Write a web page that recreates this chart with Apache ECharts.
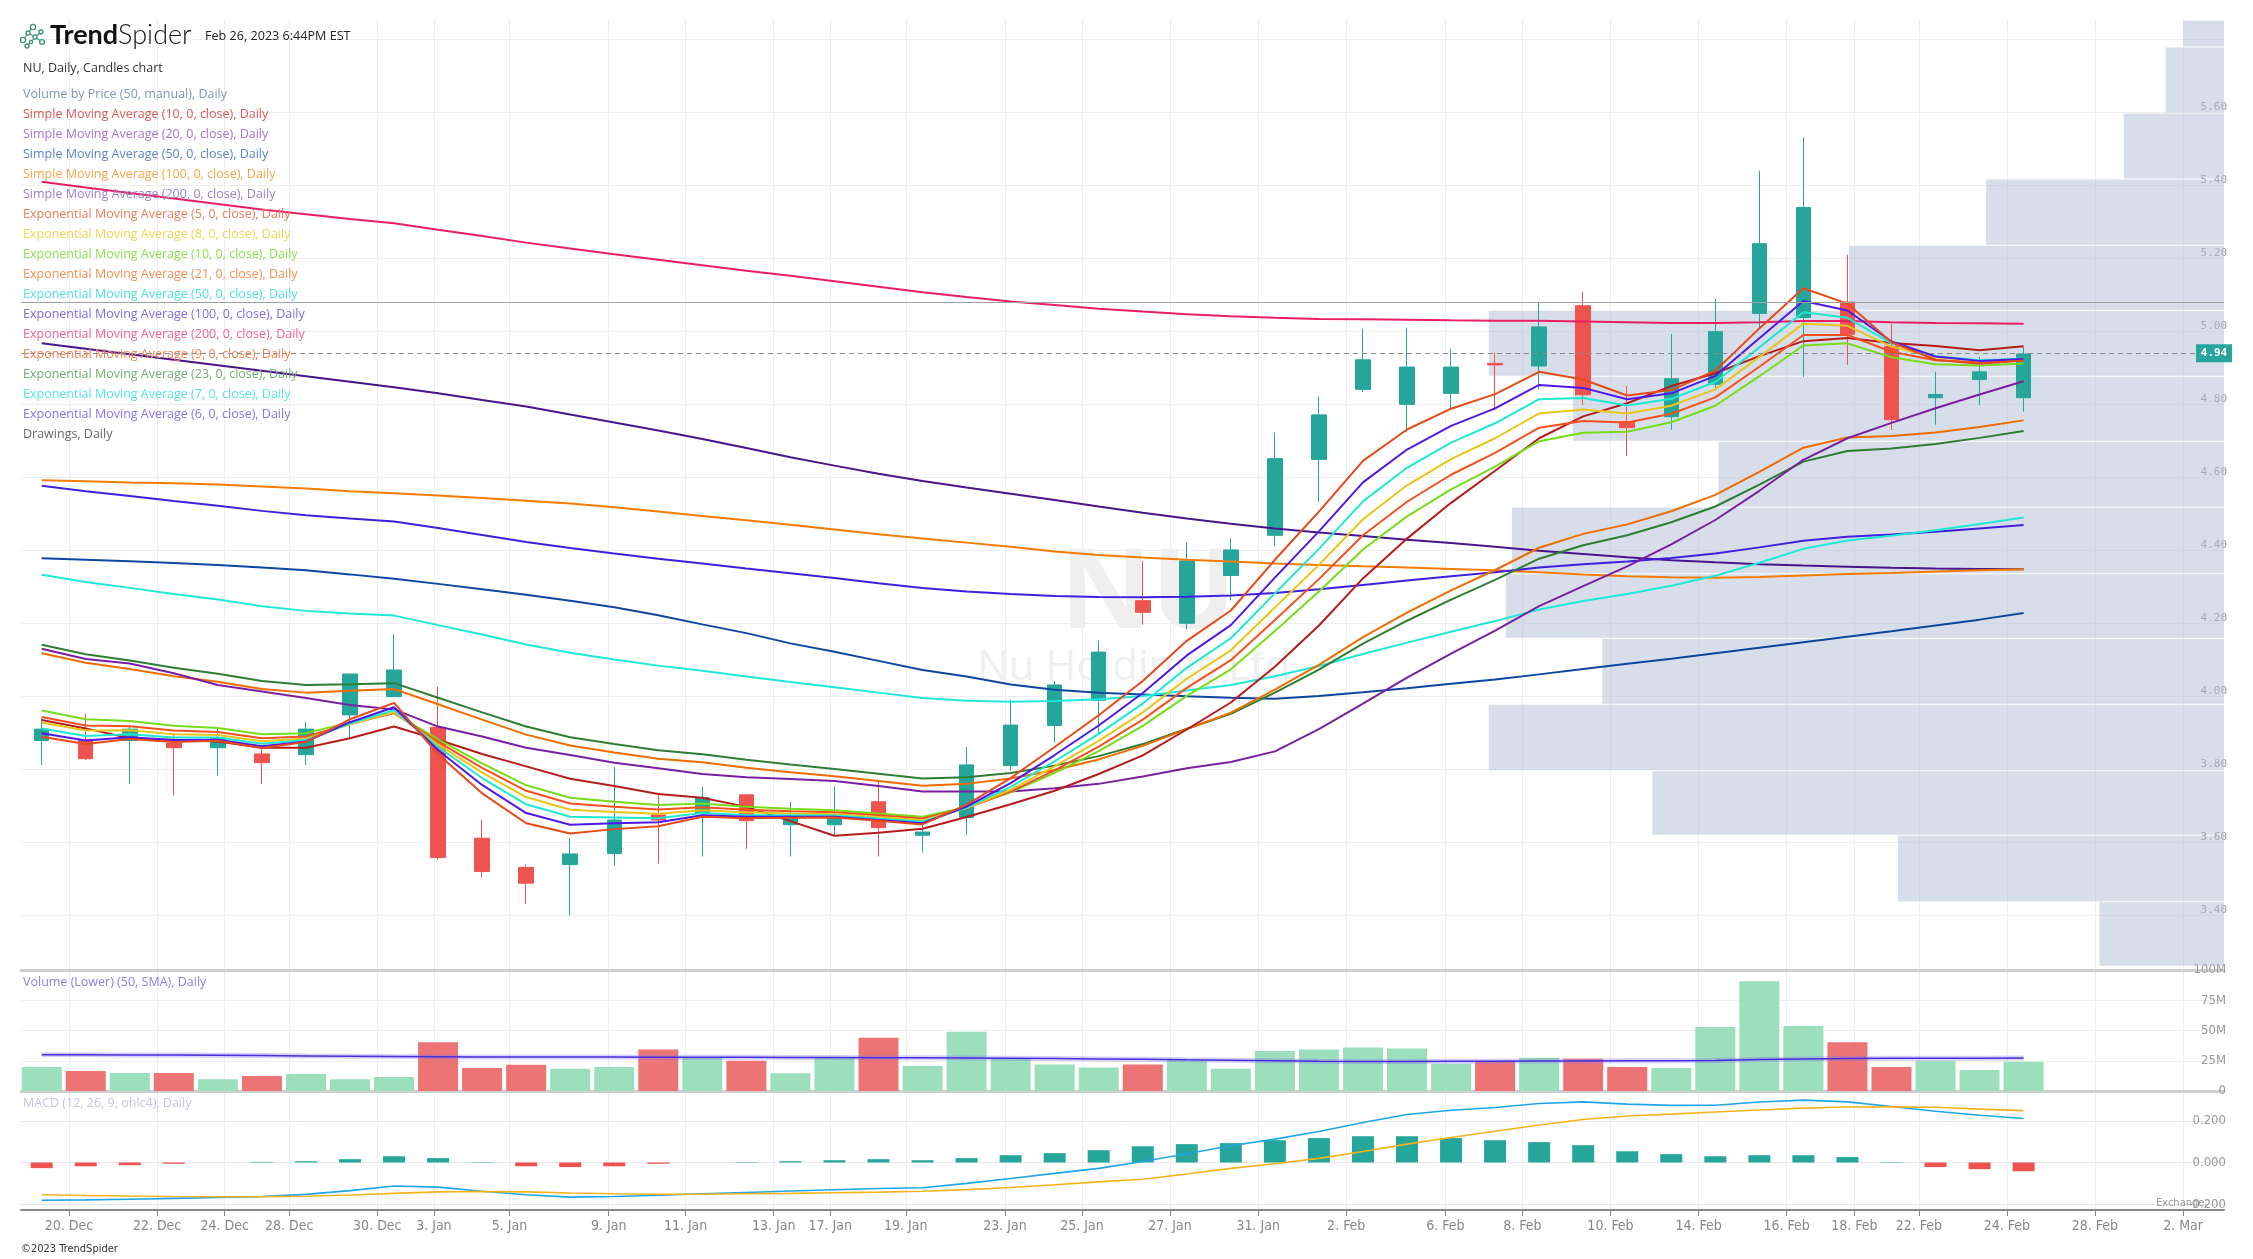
<!DOCTYPE html>
<html><head><meta charset="utf-8">
<script src="https://cdn.jsdelivr.net/npm/echarts@6/dist/echarts.min.js"></script>
<style>html,body{margin:0;padding:0;background:#fff;}#c{width:2253px;height:1259px;}</style>
</head><body><div id="c"></div>
<script>
// ---------------- DATA ----------------
const dates = ['2022-12-19','2022-12-20','2022-12-21','2022-12-22','2022-12-23','2022-12-27','2022-12-28','2022-12-29','2022-12-30',
'2023-01-03','2023-01-04','2023-01-05','2023-01-06','2023-01-09','2023-01-10','2023-01-11','2023-01-12','2023-01-13','2023-01-17','2023-01-18','2023-01-19','2023-01-20',
'2023-01-23','2023-01-24','2023-01-25','2023-01-26','2023-01-27','2023-01-30','2023-01-31','2023-02-01','2023-02-02','2023-02-03',
'2023-02-06','2023-02-07','2023-02-08','2023-02-09','2023-02-10','2023-02-13','2023-02-14','2023-02-15','2023-02-16','2023-02-17',
'2023-02-21','2023-02-22','2023-02-23','2023-02-24'];
const futureSessions = ['2023-02-27','2023-02-28','2023-03-01','2023-03-02','2023-03-03','2023-03-06'];
const open  = [3.879,3.880,3.879,3.872,3.859,3.842,3.840,3.949,3.999,3.915,3.611,3.531,3.539,3.569,3.675,3.679,3.730,3.648,3.648,3.711,3.619,3.668,3.810,3.920,3.989,4.262,4.200,4.331,4.441,4.649,4.841,4.800,4.830,4.912,4.905,5.070,4.752,4.766,4.855,5.049,5.038,5.080,4.959,4.818,4.868,4.818];
const high  = [3.940,3.952,3.919,3.894,3.912,3.855,3.930,4.061,4.171,4.026,3.661,3.539,3.611,3.806,3.731,3.752,3.730,3.711,3.752,3.768,3.648,3.861,3.990,4.042,4.152,4.371,4.421,4.432,4.722,4.822,5.007,5.010,4.952,4.941,5.080,5.108,4.850,4.993,5.089,5.440,5.532,5.210,5.020,4.889,4.930,4.956];
const low   = [3.812,3.825,3.760,3.728,3.783,3.760,3.812,3.882,3.999,3.552,3.504,3.432,3.400,3.536,3.542,3.561,3.582,3.561,3.620,3.561,3.572,3.620,3.796,3.873,3.898,4.196,4.183,4.263,4.413,4.533,4.834,4.724,4.788,4.783,4.841,4.798,4.659,4.730,4.837,5.010,4.875,4.908,4.730,4.744,4.798,4.780];
const close = [3.910,3.829,3.910,3.859,3.885,3.818,3.910,4.061,4.072,3.558,3.520,3.488,3.568,3.661,3.661,3.722,3.659,3.670,3.670,3.640,3.628,3.812,3.921,4.031,4.121,4.230,4.371,4.401,4.651,4.771,4.922,4.902,4.902,4.908,5.012,4.826,4.736,4.870,4.999,5.240,5.339,4.992,4.758,4.827,4.889,4.938];
const volumeM = [19.9,16.6,14.9,14.9,9.8,12.4,14.0,9.8,11.5,40.2,19.1,21.6,18.3,19.9,34.3,27.5,25.0,14.6,28.0,44.0,20.7,49.0,27.0,22.0,19.5,22.0,25.6,18.3,33.0,34.3,36.0,35.1,22.5,25.0,27.5,26.7,19.9,19.1,52.8,90.7,53.7,40.2,19.9,25.0,17.4,24.2];
const volumeSmaM = [30.0,29.9,29.8,29.7,29.5,29.3,29.0,28.8,28.5,28.3,28.2,28.1,28.0,28.0,27.9,27.9,27.8,27.7,27.6,27.5,27.4,27.2,27.0,26.8,26.5,26.2,25.8,25.5,25.0,24.6,24.4,24.4,24.5,24.6,24.7,24.8,25.0,25.0,25.2,26.0,26.4,26.8,27.0,27.0,27.1,27.2];
const macdLine = [-0.181,-0.179,-0.176,-0.172,-0.168,-0.163,-0.153,-0.135,-0.113,-0.118,-0.138,-0.155,-0.166,-0.163,-0.157,-0.150,-0.144,-0.137,-0.131,-0.125,-0.121,-0.100,-0.077,-0.052,-0.028,0.005,0.042,0.080,0.112,0.149,0.192,0.230,0.251,0.264,0.283,0.291,0.280,0.274,0.275,0.290,0.299,0.291,0.269,0.246,0.227,0.211];
const signalLine = [-0.155,-0.158,-0.161,-0.163,-0.164,-0.164,-0.162,-0.156,-0.148,-0.141,-0.139,-0.141,-0.146,-0.150,-0.152,-0.152,-0.150,-0.148,-0.145,-0.142,-0.138,-0.130,-0.120,-0.107,-0.093,-0.080,-0.055,-0.028,-0.006,0.020,0.053,0.088,0.120,0.150,0.180,0.206,0.223,0.232,0.242,0.252,0.261,0.266,0.267,0.265,0.256,0.249];
const macdHist = [-0.027,-0.018,-0.013,-0.006,0,0.003,0.006,0.016,0.030,0.021,0.002,-0.018,-0.022,-0.018,-0.006,0,0.002,0.006,0.011,0.016,0.011,0.021,0.035,0.045,0.059,0.078,0.088,0.093,0.107,0.117,0.126,0.126,0.117,0.107,0.098,0.083,0.054,0.040,0.030,0.035,0.035,0.026,0.002,-0.022,-0.032,-0.042];

const sma10 = [3.935,3.912,3.885,3.880,3.876,3.859,3.859,3.885,3.917,3.881,3.842,3.808,3.774,3.754,3.732,3.722,3.697,3.658,3.618,3.626,3.637,3.669,3.704,3.741,3.787,3.838,3.909,3.983,4.081,4.194,4.323,4.432,4.530,4.618,4.707,4.767,4.803,4.850,4.885,4.932,4.973,4.982,4.968,4.960,4.948,4.959];
const sma20 = [4.130,4.102,4.090,4.063,4.031,4.013,3.995,3.976,3.964,3.917,3.890,3.859,3.839,3.818,3.803,3.787,3.778,3.773,3.768,3.754,3.739,3.739,3.739,3.748,3.760,3.780,3.803,3.820,3.849,3.910,3.980,4.051,4.117,4.180,4.247,4.302,4.356,4.416,4.483,4.563,4.648,4.707,4.749,4.789,4.827,4.863];
const sma50 = [4.378,4.374,4.370,4.365,4.360,4.353,4.345,4.334,4.322,4.308,4.293,4.278,4.262,4.244,4.222,4.197,4.173,4.145,4.122,4.097,4.072,4.054,4.032,4.018,4.010,4.005,4.000,3.996,3.993,4.001,4.011,4.022,4.034,4.046,4.060,4.075,4.089,4.103,4.118,4.133,4.148,4.163,4.178,4.194,4.210,4.228];
const sma100 = [4.592,4.589,4.586,4.584,4.580,4.575,4.569,4.562,4.556,4.550,4.543,4.536,4.528,4.518,4.506,4.494,4.482,4.470,4.457,4.444,4.432,4.421,4.410,4.397,4.387,4.380,4.374,4.369,4.364,4.360,4.356,4.353,4.349,4.345,4.340,4.334,4.329,4.326,4.325,4.327,4.331,4.335,4.338,4.342,4.345,4.348];
const sma200 = [4.967,4.952,4.937,4.922,4.907,4.892,4.877,4.862,4.847,4.830,4.812,4.794,4.772,4.750,4.728,4.705,4.680,4.655,4.632,4.610,4.590,4.572,4.555,4.538,4.520,4.503,4.487,4.473,4.460,4.449,4.439,4.429,4.420,4.410,4.399,4.390,4.381,4.373,4.367,4.362,4.358,4.355,4.352,4.350,4.349,4.348];
const ema5 = [3.889,3.869,3.883,3.875,3.878,3.858,3.875,3.937,3.982,3.841,3.734,3.652,3.624,3.636,3.644,3.670,3.666,3.667,3.668,3.659,3.649,3.703,3.776,3.861,3.948,4.042,4.152,4.235,4.374,4.506,4.645,4.731,4.788,4.828,4.889,4.868,4.824,4.839,4.892,5.008,5.118,5.076,4.970,4.922,4.911,4.920];
const ema6 = [3.899,3.879,3.888,3.880,3.881,3.863,3.876,3.929,3.970,3.852,3.757,3.680,3.648,3.652,3.655,3.674,3.670,3.670,3.670,3.661,3.652,3.698,3.762,3.839,3.920,4.009,4.112,4.195,4.325,4.452,4.586,4.676,4.741,4.789,4.853,4.845,4.814,4.830,4.878,4.981,5.083,5.057,4.972,4.931,4.919,4.924];
const ema7 = [3.912,3.891,3.896,3.887,3.887,3.870,3.880,3.925,3.962,3.861,3.776,3.704,3.670,3.668,3.666,3.680,3.675,3.674,3.673,3.665,3.656,3.695,3.752,3.822,3.897,3.980,4.078,4.159,4.282,4.404,4.534,4.626,4.695,4.748,4.814,4.817,4.797,4.815,4.861,4.956,5.052,5.037,4.967,4.932,4.921,4.925];
const ema8 = [3.928,3.906,3.907,3.896,3.894,3.877,3.884,3.923,3.956,3.868,3.791,3.724,3.689,3.683,3.678,3.688,3.682,3.679,3.677,3.669,3.660,3.694,3.744,3.808,3.878,3.956,4.048,4.126,4.243,4.360,4.485,4.578,4.650,4.707,4.775,4.786,4.775,4.796,4.841,4.930,5.021,5.015,4.958,4.929,4.920,4.924];
const ema9 = [3.943,3.920,3.918,3.906,3.902,3.885,3.890,3.924,3.954,3.875,3.804,3.741,3.706,3.697,3.690,3.696,3.689,3.685,3.682,3.674,3.665,3.694,3.739,3.797,3.862,3.936,4.023,4.099,4.209,4.321,4.441,4.533,4.607,4.667,4.736,4.754,4.750,4.774,4.819,4.903,4.990,4.990,4.944,4.921,4.915,4.920];
const ema10 = [3.961,3.937,3.932,3.919,3.913,3.896,3.899,3.928,3.954,3.882,3.816,3.756,3.722,3.711,3.702,3.706,3.697,3.692,3.688,3.679,3.670,3.696,3.737,3.790,3.850,3.919,4.001,4.074,4.179,4.287,4.402,4.493,4.567,4.629,4.699,4.722,4.725,4.751,4.796,4.877,4.961,4.967,4.929,4.910,4.906,4.912];
const ema21 = [4.118,4.092,4.075,4.055,4.040,4.020,4.010,4.015,4.020,3.978,3.936,3.895,3.865,3.846,3.829,3.819,3.804,3.792,3.781,3.768,3.755,3.760,3.775,3.798,3.827,3.864,3.910,3.955,4.018,4.086,4.162,4.229,4.290,4.346,4.407,4.445,4.471,4.507,4.552,4.615,4.681,4.709,4.713,4.723,4.738,4.756];
const ema23 = [4.141,4.115,4.098,4.078,4.062,4.042,4.031,4.033,4.036,3.996,3.956,3.917,3.888,3.869,3.852,3.841,3.826,3.813,3.801,3.788,3.775,3.778,3.790,3.810,3.836,3.869,3.911,3.952,4.010,4.073,4.144,4.207,4.265,4.319,4.377,4.414,4.441,4.477,4.520,4.580,4.643,4.672,4.679,4.691,4.708,4.727];
const ema50 = [4.333,4.313,4.297,4.280,4.265,4.247,4.234,4.227,4.221,4.195,4.169,4.142,4.119,4.101,4.084,4.070,4.054,4.039,4.025,4.010,3.995,3.988,3.985,3.987,3.992,4.001,4.016,4.031,4.055,4.083,4.116,4.147,4.177,4.206,4.238,4.261,4.280,4.303,4.330,4.366,4.404,4.427,4.440,4.455,4.472,4.490];
const ema100 = [4.577,4.562,4.549,4.535,4.522,4.508,4.496,4.487,4.479,4.461,4.442,4.423,4.406,4.391,4.377,4.364,4.350,4.337,4.324,4.310,4.297,4.287,4.280,4.275,4.272,4.271,4.273,4.276,4.283,4.293,4.305,4.317,4.329,4.340,4.353,4.362,4.369,4.379,4.391,4.408,4.426,4.437,4.443,4.451,4.460,4.469];
const ema200 = [5.410,5.394,5.379,5.364,5.349,5.334,5.321,5.308,5.296,5.278,5.261,5.243,5.227,5.211,5.196,5.181,5.166,5.152,5.137,5.122,5.107,5.094,5.082,5.072,5.062,5.054,5.047,5.041,5.037,5.034,5.033,5.032,5.030,5.029,5.029,5.027,5.025,5.023,5.023,5.025,5.028,5.028,5.025,5.023,5.022,5.021];

const vbpEdges = [3.260,3.437,3.619,3.796,3.978,4.159,4.336,4.518,4.699,4.877,5.058,5.236,5.417,5.598,5.779,5.960];
const vbpVolumeM = [22.6,59.2,103.8,133.5,112.9,130.4,129.3,91.8,118.2,133.5,68.1,43.2,18.2,10.6,7.4];

const tickDates = ['2022-12-20','2022-12-22','2022-12-24','2022-12-28','2022-12-30','2023-01-03','2023-01-05','2023-01-09','2023-01-11','2023-01-13','2023-01-17','2023-01-19','2023-01-23','2023-01-25','2023-01-27','2023-01-31','2023-02-02','2023-02-06','2023-02-08','2023-02-10','2023-02-14','2023-02-16','2023-02-18','2023-02-22','2023-02-24','2023-02-28','2023-03-02'];
const monthNames = ['Jan','Feb','Mar','Apr','May','Jun','Jul','Aug','Sep','Oct','Nov','Dec'];
const priceGridTicks = [3.4,3.6,3.8,4.0,4.2,4.4,4.6,4.8,5.0,5.2,5.4,5.6,5.8];
const priceTickLabels = [3.4,3.6,3.8,4.0,4.2,4.4,4.6,4.8,5.0,5.2,5.4,5.6];
const macdTicks = [-0.2,0,0.2];
const lastPrice = 4.94;
const drawingLevel = 5.08;

const headerDate = 'Feb 26, 2023 6:44PM EST';
const chartTitle = 'NU, Daily, Candles chart';
const legendTexts = ['Volume by Price (50, manual), Daily','Simple Moving Average (10, 0, close), Daily','Simple Moving Average (20, 0, close), Daily',
'Simple Moving Average (50, 0, close), Daily','Simple Moving Average (100, 0, close), Daily','Simple Moving Average (200, 0, close), Daily',
'Exponential Moving Average (5, 0, close), Daily','Exponential Moving Average (8, 0, close), Daily','Exponential Moving Average (10, 0, close), Daily',
'Exponential Moving Average (21, 0, close), Daily','Exponential Moving Average (50, 0, close), Daily','Exponential Moving Average (100, 0, close), Daily',
'Exponential Moving Average (200, 0, close), Daily','Exponential Moving Average (9, 0, close), Daily','Exponential Moving Average (23, 0, close), Daily',
'Exponential Moving Average (7, 0, close), Daily','Exponential Moving Average (6, 0, close), Daily','Drawings, Daily'];
const volumeTitle = 'Volume (Lower) (50, SMA), Daily';
const macdTitle = 'MACD (12, 26, 9, ohlc4), Daily';
const watermark1 = 'NU', watermark2 = 'Nu Holdings Ltd';
const copyright = '©2023 TrendSpider';

// ---------------- STYLE / LAYOUT ----------------
const legendColors = ['#8095b8','#d65a58','#a574d2','#5d82c8','#f6a446','#9c80c9','#f27b5c','#e8d94e','#8fe04f','#f59052','#4ee3d8','#7c6ce6','#f0639b','#f28052','#76aa76','#55e6de','#8c70ef','#666666'];
const W = 2253, H = 1259;
const GL = 21, GR = 29;
const P_TOP = 20, P_H = 950, V_TOP = 970, V_H = 121, M_TOP = 1091, M_H = 119;
const PRICE_MIN = 3.25, PRICE_MAX = 5.853;
const XMIN = -0.47, XMAX = 49.55;
const SESSION_OFFSET = 0.38;
const UP = '#26a69a', DOWN = '#ef5350';
const narrow = '"Liberation Sans Narrow","DejaVu Sans Condensed","Roboto Condensed",sans-serif';

function dayNum(s){const a=s.split('-').map(Number);return Date.UTC(a[0],a[1]-1,a[2])/86400000;}
const sess = dates.concat(futureSessions).map(s=>dayNum(s)+SESSION_OFFSET);
function tickPos(s){const D=dayNum(s);for(let k=0;k<sess.length-1;k++){if(sess[k]<=D&&D<sess[k+1])return k+(D-sess[k])/(sess[k+1]-sess[k]);}return null;}
const ticks = tickDates.map(s=>{const a=s.split('-').map(Number);return {pos:tickPos(s),label:a[2]+'. '+monthNames[a[1]-1]};});
const tickValues = ticks.map(t=>t.pos);
function tickLabel(v){const t=ticks.find(t=>Math.abs(t.pos-v)<1e-6);return t?t.label:'';}

const chart = echarts.init(document.getElementById('c'), null, {renderer:'canvas'});

function xAxisFor(grid, opts){
  return Object.assign({type:'value', gridIndex:grid, min:XMIN, max:XMAX,
    axisLine:{show:true,onZero:false,lineStyle:{color:'#cfcfcf',width:3}},
    axisTick:{show:false,customValues:tickValues},
    axisLabel:{show:false,customValues:tickValues},
    splitLine:{show:true,lineStyle:{color:'#eeeeee',width:1}}}, opts||{});
}
const lineSpecs = [
  [ema200,'#e91e63'],[sma200,'#4a148c'],[sma100,'#f57c00'],[ema100,'#3f1fe0'],[sma50,'#0d47a1'],[ema50,'#1de9d6'],
  [ema23,'#2e7d32'],[ema21,'#ef6c00'],[sma20,'#7b1fa2'],[sma10,'#b71c1c'],
  [ema10,'#76dd1a'],[ema9,'#f4511e'],[ema8,'#e8c51a'],[ema7,'#1de9d0'],[ema6,'#5018e8'],[ema5,'#e64a19']
];
const idxData = arr => arr.map((v,i)=>[i,v]);
const series = [];
series.push({type:'custom', xAxisIndex:1, yAxisIndex:0, z:1, silent:true,
  data: vbpVolumeM.map((v,i)=>[vbpEdges[i],vbpEdges[i+1],v]),
  encode:{x:2,y:[0,1]},
  renderItem:(params,api)=>{
    const lo=api.value(0), hi=Math.min(api.value(1),PRICE_MAX);
    const a=api.coord([0,hi]), b=api.coord([api.value(2),lo]);
    return {type:'rect', shape:{x:b[0], y:a[1]+0.5, width:a[0]-b[0], height:b[1]-a[1]-1}, style:{fill:'rgba(178,190,212,0.5)'}};
  }});
series.push({type:'candlestick', xAxisIndex:0, yAxisIndex:0, z:3, barWidth:15,
  data: dates.map((d,i)=>[i,open[i],close[i],low[i],high[i]]), encode:{x:0,y:[1,2,3,4]},
  itemStyle:{color:UP,color0:DOWN,borderColor:UP,borderColor0:DOWN,borderWidth:1},
  markLine:{silent:true,symbol:'none',label:{show:false},animation:false,
    data:[{yAxis:drawingLevel,lineStyle:{color:'#a0a0a0',width:1.2,type:'solid'}},
          {yAxis:lastPrice,lineStyle:{color:'#8a8a8a',width:1,type:[5,4]}}]}});
lineSpecs.forEach(([arr,col])=>series.push({type:'line',xAxisIndex:0,yAxisIndex:0,z:4,silent:true,symbol:'none',
  data:idxData(arr),lineStyle:{width:2,color:col}}));
series.push({type:'bar', xAxisIndex:2, yAxisIndex:1, barWidth:40, silent:true,
  data: volumeM.map((v,i)=>({value:[i,v*1e6], itemStyle:{color: close[i]>=open[i]?'#9bdfbc':'#ec7474'}}))});
series.push({type:'line', xAxisIndex:2, yAxisIndex:1, symbol:'none', silent:true, z:4,
  data: volumeSmaM.map((v,i)=>[i,v*1e6]), lineStyle:{color:'rgba(140,120,240,0.35)',width:5}});
series.push({type:'line', xAxisIndex:2, yAxisIndex:1, symbol:'none', silent:true, z:5,
  data: volumeSmaM.map((v,i)=>[i,v*1e6]), lineStyle:{color:'#4630da',width:1.5}});
series.push({type:'bar', xAxisIndex:3, yAxisIndex:2, barWidth:22, silent:true,
  data: macdHist.map((v,i)=>({value:[i,v], itemStyle:{color: v>=0?UP:DOWN}}))});
series.push({type:'line', xAxisIndex:3, yAxisIndex:2, symbol:'none', silent:true, z:5, data:idxData(macdLine), lineStyle:{color:'#1ea5ea',width:1.6}});
series.push({type:'line', xAxisIndex:3, yAxisIndex:2, symbol:'none', silent:true, z:5, data:idxData(signalLine), lineStyle:{color:'#f6b21c',width:1.6}});

const option = {
  animation:false, backgroundColor:'#ffffff',
  grid:[
    {left:GL,right:GR,top:P_TOP,height:P_H,outerBoundsMode:'none'},
    {left:GL,right:GR,top:V_TOP,height:V_H,outerBoundsMode:'none'},
    {left:GL,right:GR,top:M_TOP,height:M_H,outerBoundsMode:'none'}
  ],
  xAxis:[
    xAxisFor(0),
    {type:'value', gridIndex:0, min:0, max:400, inverse:true, show:false},
    xAxisFor(1),
    xAxisFor(2,{axisLine:{show:true,onZero:false,lineStyle:{color:'#888888',width:2}},
      axisTick:{show:true,length:6,customValues:tickValues,lineStyle:{color:'#888888'}},
      axisLabel:{show:true,customValues:tickValues,formatter:tickLabel,color:'#888888',fontSize:14,fontFamily:narrow,margin:9}})
  ],
  yAxis:[
    {type:'value', gridIndex:0, position:'right', min:PRICE_MIN, max:PRICE_MAX,
     axisLine:{show:false}, axisTick:{show:false,customValues:priceGridTicks},
     axisLabel:{inside:true,margin:-3,customValues:priceTickLabels,formatter:v=>v.toFixed(2),color:'#999999',fontSize:11,fontFamily:'"DejaVu Sans Mono",monospace',verticalAlign:'bottom'},
     splitLine:{show:true,lineStyle:{color:'#eeeeee'}}},
    {type:'value', gridIndex:1, position:'right', min:0, max:100e6, interval:25e6,
     axisLine:{show:false}, axisTick:{show:false},
     axisLabel:{inside:true,margin:-2,formatter:v=>v===0?'0':(v/1e6)+'M',color:'#999999',fontSize:13,fontFamily:narrow},
     splitLine:{show:true,lineStyle:{color:'#eeeeee'}}},
    {type:'value', gridIndex:2, position:'right', min:-0.2278, max:0.343,
     axisLine:{show:false}, axisTick:{show:false,customValues:macdTicks},
     axisLabel:{inside:true,margin:-2,customValues:macdTicks,formatter:v=>v.toFixed(3),color:'#999999',fontSize:13,fontFamily:narrow},
     splitLine:{show:true,lineStyle:{color:'#e8e6ef'}}}
  ],
  series
};
chart.setOption(option);

// ---------------- TEXT / GRAPHICS ----------------
const g = [];
function txt(x,y,text,fill,size,family,weight,extra){
  g.push({type:'text',x:x,y:y,z:100,silent:true,style:Object.assign({text:text,fill:fill,fontSize:size,fontFamily:family||'"Open Sans",sans-serif',fontWeight:weight||'normal',verticalAlign:'middle',align:'left'},extra||{})});
}
// watermark
const wmX = chart.convertToPixel({xAxisIndex:0}, 24.8);
g.push({type:'text',x:wmX+14,y:596,z:0,silent:true,style:{text:watermark1,fill:'#efefef',fontSize:112,fontWeight:'bold',fontFamily:'"Open Sans",sans-serif',align:'center',verticalAlign:'middle'}});
g.push({type:'text',x:wmX,y:668,z:0,silent:true,style:{text:watermark2,fill:'#efefef',fontSize:42,fontFamily:'"Open Sans",sans-serif',align:'center',verticalAlign:'middle'}});
// logo icon
const dots=[[23,40,2.6],[28,33,2],[33,27,2.6],[35,37,2],[41,32,2],[42,42,2.4],[27,46,2],[31,42,1.6]];
[[23,40,28,33],[28,33,33,27],[28,33,35,37],[35,37,41,32],[35,37,42,42],[35,37,31,42],[31,42,27,46]].forEach(l=>g.push({type:'line',z:100,silent:true,shape:{x1:l[0],y1:l[1],x2:l[2],y2:l[3]},style:{stroke:'#4b9a86',lineWidth:1.2}}));
dots.forEach(d=>g.push({type:'circle',z:101,silent:true,shape:{cx:d[0],cy:d[1],r:d[2]},style:{fill:'#ffffff',stroke:'#3f8f7a',lineWidth:1.3}}));
g.push({type:'text',x:50,y:35,z:100,silent:true,style:{text:'{a|Trend}{b|Spider}',verticalAlign:'middle',rich:{
  a:{fontSize:27,fontWeight:'bold',fontFamily:'Lato,"Open Sans",sans-serif',fill:'#111111'},
  b:{fontSize:27,fontWeight:300,fontFamily:'Lato,"Open Sans",sans-serif',fill:'#111111'}}}});
txt(205,36,headerDate,'#222222',12.6);
txt(23,68,chartTitle,'#333333',12.5);
legendTexts.forEach((t,i)=>txt(23,94+20*i,t,legendColors[i],12.5));
txt(23,982,volumeTitle,'#8a7fe6',12.5);
txt(23,1103,macdTitle,'#cbbfea',12.5);
txt(21,1249,copyright,'#333333',11,narrow);
txt(2156,1203,'Exchange;','#999999',11,narrow);
// current price tag
const py = chart.convertToPixel({yAxisIndex:0}, lastPrice);
const rightEdge = W-GR;
g.push({type:'rect',z:100,silent:true,shape:{x:rightEdge-28,y:py-9,width:36,height:18},style:{fill:UP}});
g.push({type:'text',z:101,silent:true,x:rightEdge-10,y:py,style:{text:lastPrice.toFixed(2),fill:'#ffffff',fontSize:11,fontWeight:'bold',fontFamily:'"DejaVu Sans Mono",monospace',align:'center',verticalAlign:'middle'}});
chart.setOption({graphic:g});
</script></body></html>
